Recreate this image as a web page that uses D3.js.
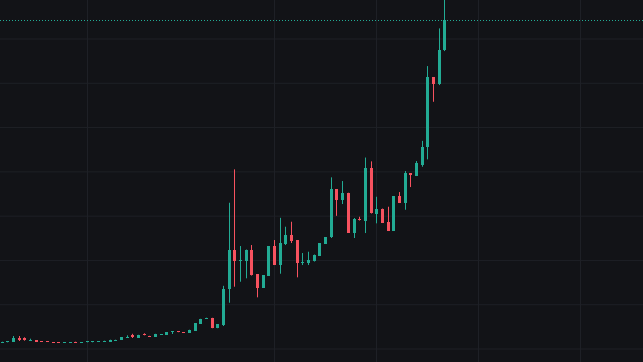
<!DOCTYPE html>
<html>
<head>
<meta charset="utf-8">
<script src="https://cdn.jsdelivr.net/npm/d3@7"></script>
<style>
  html, body { margin: 0; padding: 0; background: #121317; }
  svg { display: block; }
</style>
</head>
<body>
<svg id="chart" width="643" height="362"></svg>
<script>
// ---- data ----
const categories = d3.range(79).map(i => "C" + (i + 1));
const open  = [257,271,284,465,438,316,361,316,316,271,271,239,239,284,239,271,271,271,271,302,339,361,465,573,461,619,551,506,587,600,709,759,722,686,777,1093,1318,1364,894,1038,2650,4425,3964,3942,4447,3341,2722,3251,4605,3747,4696,5102,4876,3838,3851,3928,4154,4696,4989,7165,6682,7012,5206,5824,5711,8113,6050,6276,5711,5296,6863,6547,7888,7788,8298,9062,12222,11897,13432];
const high  = [284,302,542,542,483,420,361,316,316,271,271,271,271,284,271,302,302,316,330,375,375,483,573,641,596,664,551,641,632,713,754,759,722,826,1129,1318,1368,1364,1084,2808,6560,8068,4605,4447,4650,3341,3296,4605,4876,5879,5477,5702,4876,4289,4348,4222,4727,5012,7707,7179,7540,7012,5870,5928,8601,8429,6831,6298,6380,6863,7043,7992,7901,8443,9355,12732,12236,14434,16073];
const low   = [257,271,271,316,330,316,271,271,271,239,239,239,239,239,239,271,271,271,271,302,339,361,465,452,461,573,510,506,587,600,632,722,686,686,777,1093,1318,894,894,993,2045,2768,2993,3147,3273,2289,2722,3251,3747,3355,4650,4741,3192,3747,3747,3905,4154,4696,4967,5969,6502,5206,4967,5757,5192,6073,5630,5644,5283,5296,6547,6244,7269,7766,8186,8520,11120,11874,13410];
const close = [284,302,465,375,330,375,284,271,271,239,239,271,271,239,271,302,302,316,330,375,375,483,510,483,596,573,510,641,632,713,754,722,686,826,1129,1318,1368,894,1084,2673,4425,3942,3982,4425,3296,2709,3296,4605,3747,4741,5102,4831,3851,3905,3982,4199,4727,5012,7165,6682,7012,5206,5824,5757,8113,6082,6298,5666,5296,6863,6560,7888,7811,8366,9089,12222,11888,13455,14796];
const yTicks = [0, 2000, 4000, 6000, 8000, 10000, 12000, 14000];
const timeGridIndex = [15, 48, 66, 84, 102];

const upColor = "#22ab94", downColor = "#f7525f";
const W = 643, H = 362;

const svg = d3.select("#chart");
svg.append("rect").attr("width", W).attr("height", H).attr("fill", "#121317");

const x = d3.scaleLinear().domain([0, categories.length - 1]).range([1.7, 444.3]);
const y = d3.scaleLinear().domain([0, 14000]).range([348, 38]);

// horizontal grid via axis
const gy = svg.append("g").attr("class", "ygrid")
  .call(d3.axisRight(y).tickValues(yTicks).tickSize(W).tickFormat(""));
gy.select(".domain").remove();
gy.selectAll("line").attr("stroke", "#1e2026").attr("stroke-width", 1)
  .attr("transform", "translate(0,0.5)");

// vertical grid via axis
const gx = svg.append("g").attr("class", "xgrid")
  .call(d3.axisBottom(x).tickValues(timeGridIndex).tickSize(H).tickFormat(""));
gx.select(".domain").remove();
gx.selectAll("line").attr("stroke", "#1e2026").attr("stroke-width", 1);
gx.selectAll(".tick").attr("transform", d => `translate(${Math.round(x(d)) + 0.5},0)`);

const data = categories.map((c, i) => ({ i, c, o: open[i], h: high[i], l: low[i], cl: close[i] }));

const g = svg.append("g");
const cand = g.selectAll("g.c").data(data).enter().append("g").attr("class", "c");

cand.append("rect")
  .attr("x", d => Math.round(x(d.i)))
  .attr("width", 1)
  .attr("y", d => y(d.h))
  .attr("height", d => Math.max(1, y(d.l) - y(d.h)))
  .attr("fill", d => d.cl >= d.o ? upColor : downColor);

cand.append("rect")
  .attr("x", d => Math.round(x(d.i)) - 1)
  .attr("width", 3)
  .attr("y", d => Math.round(y(Math.max(d.o, d.cl))))
  .attr("height", d => Math.max(1, Math.round(Math.abs(y(d.o) - y(d.cl)))))
  .attr("fill", d => d.cl >= d.o ? upColor : downColor);

// last price dotted line
const last = close[close.length - 1];
svg.append("line")
  .attr("x1", 0).attr("x2", W)
  .attr("y1", Math.round(y(last)) + 0.5).attr("y2", Math.round(y(last)) + 0.5)
  .attr("stroke", upColor).attr("stroke-width", 1)
  .attr("stroke-dasharray", "1 2");
</script>
</body>
</html>
